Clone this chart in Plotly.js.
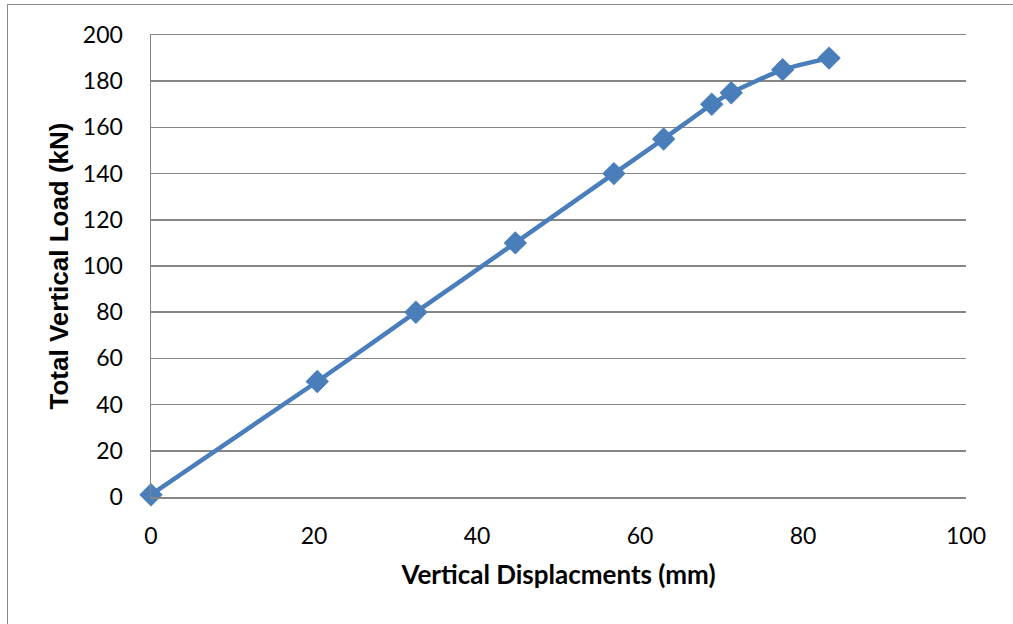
<!DOCTYPE html>
<html>
<head>
<meta charset="utf-8">
<script src="https://cdn.plot.ly/plotly-3.0.1.min.js"></script>
<style>
html,body{margin:0;padding:0;background:#fff;}
#chart{width:1013px;height:624px;}
#frame{position:absolute;left:7px;top:4px;width:1020px;height:640px;border:1.5px solid #8c8c8c;pointer-events:none;}
</style>
</head>
<body>
<div id="chart"></div>
<div id="frame"></div>
<script>
const displacement = [0, 20.4, 32.5, 44.7, 56.8, 62.9, 68.8, 71.2, 77.5, 83.2];
const load = [1, 50, 80, 110, 140, 155, 170, 175, 185, 190];
const xTicks = [0, 20, 40, 60, 80, 100];
const yTicks = [0, 20, 40, 60, 80, 100, 120, 140, 160, 180, 200];

const fontFam = 'Lato, "Open Sans", sans-serif';
const trace = {
  x: displacement, y: load,
  type: 'scatter', mode: 'lines+markers',
  line: {color: '#4a7ebb', width: 4.5, shape: 'spline', smoothing: 0.5},
  marker: {symbol: 'diamond', size: 18, color: '#4a7ebb'},
  cliponaxis: false,
  hoverinfo: 'skip'
};
const layout = {
  width: 1013, height: 624,
  margin: {l: 151, r: 47, t: 35, b: 127},
  paper_bgcolor: '#fff', plot_bgcolor: '#fff',
  showlegend: false,
  font: {family: fontFam, color: '#000', size: 23},
  xaxis: {
    range: [0, 100], tickvals: xTicks, ticktext: xTicks.map(String),
    showgrid: false, zeroline: false,
    showline: true, mirror: true, linecolor: '#868686', linewidth: 1.5,
    ticks: '', ticklabelstandoff: 18,
    tickfont: {family: fontFam, size: 23, color: '#000'},
    title: {text: 'Vertical Displacments (mm)', font: {family: fontFam, size: 26, color: '#000', weight: 'bold'}, standoff: 17}
  },
  yaxis: {
    range: [0, 200], tickvals: yTicks, ticktext: yTicks.map(String),
    showgrid: true, gridcolor: '#868686', gridwidth: 1.5,
    zeroline: false, showline: true, linecolor: '#868686', linewidth: 1.5,
    ticks: '', ticklabelstandoff: 22,
    tickfont: {family: fontFam, size: 23, color: '#000'},
    title: {text: 'Total Vertical Load (kN)', font: {family: '"Liberation Sans", Arial, sans-serif', size: 26, color: '#000', weight: 'bold'}, standoff: 7}
  }
};
Plotly.newPlot('chart', [trace], layout, {displayModeBar: false, staticPlot: true});
</script>
</body>
</html>
